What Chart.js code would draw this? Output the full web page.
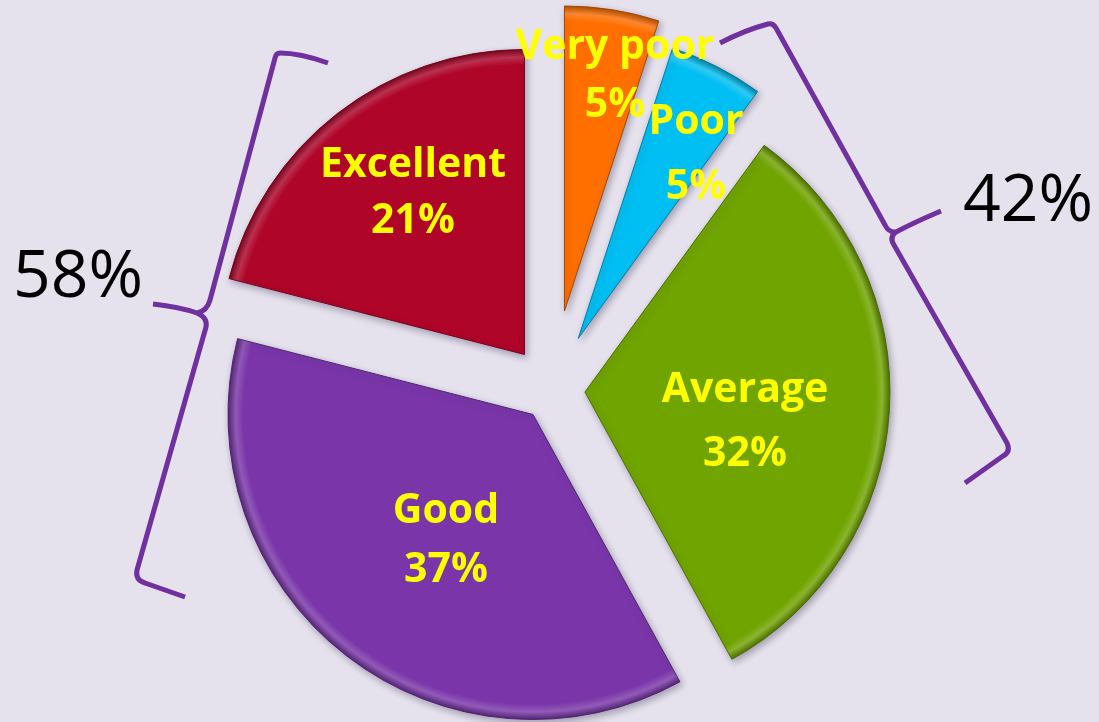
<!DOCTYPE html>
<html lang="en">
<head>
<meta charset="UTF-8" />
<title>Rating split</title>
<script src="https://cdn.jsdelivr.net/npm/chart.js"></script>
<style>
  * { margin: 0; padding: 0; box-sizing: border-box; }
  body { background: #e5e2ee; width: 1099px; height: 722px; overflow: hidden; }
  canvas { display: block; }
</style>
</head>
<body>
<canvas id="pie" width="1099" height="722"></canvas>
<script>
  // data
  const categories = ["Very poor", "Poor", "Average", "Good", "Excellent"];
  const shares = [5, 5, 32, 37, 21];
  const leftGroup = ["Good", "Excellent"];
  const rightGroup = ["Very poor", "Poor", "Average"];

  // look
  const sliceColors = ["#ff6f00", "#02bff3", "#70a400", "#7a36a9", "#af0529"];
  const pullOut = [80, 58, 33, 31, 45];   // px each slice sits away from the centre
  const R = 305;
  // label block centre relative to pie centre, and gap between the two lines
  const labelSpots = [[63, -302, 58], [144, -224, 65], [193, 44, 64], [-106, 162, 59], [-139, -185, 56]];

  const total = shares.reduce((a, b) => a + b, 0);
  function midAngle(i) {
    const before = shares.slice(0, i).reduce((a, b) => a + b, 0);
    return -Math.PI / 2 + 2 * Math.PI * (before + shares[i] / 2) / total;
  }

  function shade(hex, amt) {
    const n = parseInt(hex.slice(1), 16);
    const r = n >> 16, g = (n >> 8) & 255, b = n & 255;
    const f = v => Math.max(0, Math.min(255, Math.round(amt > 0 ? v + (255 - v) * amt : v * (1 + amt))));
    return `rgb(${f(r)},${f(g)},${f(b)})`;
  }

  // flat colour with a bevelled rim, centred on the pulled-out slice
  function sliceFill(context) {
    const chart = context.chart;
    const area = chart.chartArea;
    const i = context.dataIndex;
    const base = sliceColors[i];
    if (!area) return base;
    const a = midAngle(i);
    const cx = (area.left + area.right) / 2 + Math.cos(a) * pullOut[i];
    const cy = (area.top + area.bottom) / 2 + Math.sin(a) * pullOut[i];
    const g = chart.ctx.createRadialGradient(cx, cy, 0, cx, cy, R);
    g.addColorStop(0, base);
    g.addColorStop(0.95, base);
    g.addColorStop(0.975, shade(base, 0.18));
    g.addColorStop(1, shade(base, -0.3));
    return g;
  }

  // explode the slices: move each arc's centre out along its middle angle
  const explode = {
    id: "explode",
    afterDatasetUpdate(chart, args) {
      chart.getDatasetMeta(args.index).data.forEach((arc, i) => {
        const a = (arc.startAngle + arc.endAngle) / 2;
        arc.x += Math.cos(a) * pullOut[i];
        arc.y += Math.sin(a) * pullOut[i];
      });
    }
  };

  const shadowAndLabels = {
    id: "shadowAndLabels",
    beforeDatasetsDraw(chart) {
      const ctx = chart.ctx;
      ctx.save();
      ctx.shadowColor = "rgba(40,30,60,0.35)";
      ctx.shadowBlur = 7;
      ctx.shadowOffsetX = 2;
      ctx.shadowOffsetY = 3;
    },
    afterDatasetsDraw(chart) {
      const ctx = chart.ctx;
      ctx.restore();
      const area = chart.chartArea;
      const cx = (area.left + area.right) / 2, cy = (area.top + area.bottom) / 2;
      ctx.save();
      ctx.fillStyle = "#ffff00";
      ctx.font = "bold 41px 'Open Sans', sans-serif";
      ctx.textAlign = "center";
      ctx.textBaseline = "alphabetic";
      categories.forEach((name, i) => {
        const [dx, dy, gap] = labelSpots[i];
        ctx.fillText(name, cx + dx, cy + dy - gap / 2);
        ctx.fillText(shares[i] + "%", cx + dx, cy + dy + gap / 2);
      });
      ctx.restore();
    },
    afterDraw(chart) {
      const ctx = chart.ctx;
      const sumOf = names => names.reduce((s, n) => s + shares[categories.indexOf(n)], 0);
      ctx.save();
      ctx.strokeStyle = "#7030a0";
      ctx.lineWidth = 5;
      ctx.lineCap = "butt";
      ctx.lineJoin = "round";

      // left brace
      ctx.beginPath();
      ctx.moveTo(328, 63);
      ctx.quadraticCurveTo(300, 53, 280, 53);
      ctx.quadraticCurveTo(276, 53, 275, 58);
      ctx.lineTo(210, 300);
      ctx.quadraticCurveTo(207, 311, 197, 313);
      ctx.moveTo(153, 304);
      ctx.quadraticCurveTo(180, 307, 197, 313);
      ctx.quadraticCurveTo(208, 318, 206, 327);
      ctx.lineTo(137, 570);
      ctx.quadraticCurveTo(135, 580, 145, 583);
      ctx.lineTo(185, 597);
      ctx.stroke();

      // right brace
      ctx.beginPath();
      ctx.moveTo(720, 43);
      ctx.quadraticCurveTo(745, 30, 768, 24);
      ctx.quadraticCurveTo(773, 23, 776, 28);
      ctx.lineTo(885, 225);
      ctx.quadraticCurveTo(889, 233, 896, 232);
      ctx.moveTo(941, 211);
      ctx.quadraticCurveTo(915, 222, 896, 232);
      ctx.quadraticCurveTo(889, 237, 894, 245);
      ctx.lineTo(1007, 443);
      ctx.quadraticCurveTo(1011, 452, 1003, 456);
      ctx.lineTo(965, 483);
      ctx.stroke();

      ctx.fillStyle = "#000";
      ctx.font = "66px 'Open Sans', sans-serif";
      ctx.textAlign = "center";
      ctx.fillText(sumOf(leftGroup) + "%", 78, 297);
      ctx.fillText(sumOf(rightGroup) + "%", 1028, 221);
      ctx.restore();
    }
  };

  new Chart(document.getElementById("pie"), {
    type: "pie",
    data: {
      labels: categories,
      datasets: [{
        data: shares,
        backgroundColor: sliceFill,
        borderColor: sliceColors.map(c => shade(c, -0.35)),
        borderWidth: 1
      }]
    },
    options: {
      responsive: false,
      animation: false,
      events: [],
      radius: R,
      layout: { padding: { left: 5, top: 58, right: 0, bottom: 0 } },
      plugins: { legend: { display: false }, tooltip: { enabled: false } }
    },
    plugins: [explode, shadowAndLabels]
  });
</script>
</body>
</html>
